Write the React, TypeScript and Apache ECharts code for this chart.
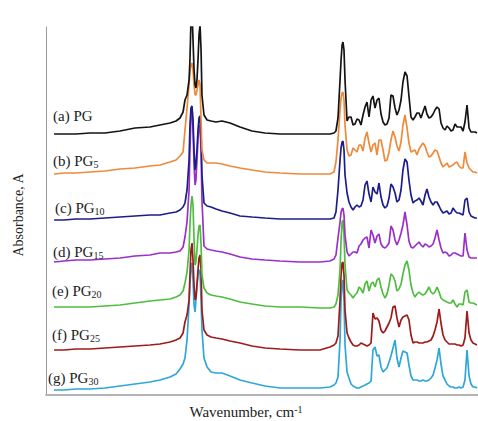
import React, { useEffect, useRef } from "react";
import * as echarts from "echarts";

// Wavenumber (cm-1) sampling grid shared by all spectra (axis runs high -> low)
const wavenumbers = [
  3997, 3919, 3825, 3715, 3598, 3480, 3363, 3245, 3167, 3088,
  3041, 3010, 2986, 2971, 2955, 2939, 2932, 2924, 2916, 2908,
  2900, 2892, 2885, 2877, 2869, 2861, 2853, 2845, 2838, 2822,
  2798, 2767, 2728, 2681, 2618, 2540, 2446, 2344, 2226, 2070,
  1913, 1835, 1803, 1788, 1772, 1756, 1748, 1740, 1733, 1725,
  1717,
  1701, 1686, 1670, 1654, 1639, 1623, 1607, 1592, 1576, 1560,
  1545, 1529, 1513, 1498, 1482, 1466, 1451, 1435, 1419, 1404,
  1388, 1372, 1357, 1341, 1325, 1310, 1294, 1278, 1263, 1247,
  1231, 1216, 1200, 1184, 1169, 1153, 1137, 1122, 1106, 1090,
  1075, 1059, 1043, 1027, 1012, 996, 980, 965, 949, 933,
  918, 902, 886, 871, 855, 839, 824, 808, 792, 777,
  761, 745, 730, 714, 698, 683,
];

// Stacked absorbance (arbitrary units, offset included) for each sample
const absorbancePG = [
  262, 262, 262, 263, 263, 265, 268, 269, 271, 273,
  275, 278, 284, 296, 301, 316, 336, 376, 385, 356,
  326, 311, 308, 316, 336, 361, 371, 346, 301, 281,
  276, 275, 274, 275, 273, 269, 265, 263, 262, 262,
  262, 262, 263, 265, 278, 316, 336, 351, 354, 346,
  316,
  275, 279, 279, 271, 272, 277, 276, 271, 281, 289,
  294, 279, 296, 300, 288, 296, 298, 282, 274, 271,
  272, 278, 301, 300, 288, 281, 286, 296, 314, 324,
  320, 300, 279, 276, 279, 283, 283, 278, 284, 290,
  282, 278, 279, 282, 286, 289, 287, 273, 268, 266,
  270, 268, 265, 266, 272, 269, 269, 269, 265, 274,
  291, 268, 264, 264, 264, 263,
];
const absorbancePG5 = [
  222, 223, 223, 224, 225, 227, 228, 230, 231, 234,
  236, 240, 244, 266, 288, 311, 324, 331, 333, 326,
  311, 301, 301, 306, 311, 316, 311, 276, 246, 236,
  233, 233, 233, 232, 230, 228, 226, 224, 223, 222,
  222, 222, 224, 234, 256, 286, 298, 303, 304, 296,
  271,
  246, 240, 241, 248, 246, 244, 251, 251, 245, 258,
  264, 253, 244, 251, 253, 241, 256, 256, 246, 235,
  236, 244, 256, 265, 259, 250, 245, 254, 271, 281,
  268, 253, 244, 245, 246, 241, 247, 250, 253, 250,
  244, 239, 240, 243, 246, 245, 239, 233, 229, 231,
  233, 229, 230, 231, 233, 234, 230, 228, 228, 244,
  233, 228, 226, 224, 224, 223,
];
const absorbancePG10 = [
  176, 176, 177, 177, 178, 179, 180, 181, 181, 183,
  184, 186, 189, 193, 206, 236, 271, 288, 290, 276,
  246, 226, 231, 246, 266, 278, 280, 261, 221, 193,
  190, 189, 187, 185, 183, 180, 179, 178, 177, 177,
  177, 177, 178, 184, 206, 236, 248, 254, 255, 246,
  221,
  203, 194, 189, 186, 189, 191, 189, 190, 196, 211,
  215, 202, 194, 209, 204, 202, 213, 199, 191, 188,
  190, 198, 212, 209, 203, 194, 196, 206, 226, 237,
  234, 216, 201, 193, 195, 196, 198, 195, 191, 201,
  207, 199, 194, 191, 194, 194, 190, 186, 183, 184,
  185, 182, 183, 188, 185, 183, 183, 182, 181, 196,
  198, 184, 180, 179, 178, 178,
];
const absorbancePG15 = [
  134, 135, 136, 136, 137, 138, 140, 141, 143, 143,
  144, 145, 149, 159, 174, 206, 246, 281, 288, 266,
  231, 211, 216, 236, 256, 269, 271, 246, 196, 150,
  147, 146, 145, 144, 142, 139, 137, 136, 135, 134,
  134, 135, 137, 141, 158, 174, 184, 187, 188, 181,
  161,
  144, 140, 142, 144, 144, 143, 150, 152, 156, 158,
  159, 148, 166, 161, 153, 160, 162, 152, 149, 148,
  150, 153, 170, 166, 156, 151, 156, 163, 171, 184,
  171, 155, 149, 148, 150, 152, 154, 151, 149, 152,
  151, 149, 150, 152, 158, 166, 156, 148, 143, 144,
  143, 140, 141, 143, 143, 142, 141, 140, 140, 163,
  146, 139, 138, 138, 138, 138,
];
const absorbancePG20 = [
  89, 89, 89, 89, 90, 91, 93, 95, 96, 97,
  99, 101, 105, 113, 124, 146, 171, 191, 200, 191,
  156, 131, 134, 146, 161, 170, 171, 151, 121, 108,
  103, 101, 100, 99, 97, 94, 92, 90, 89, 89,
  88, 88, 89, 92, 101, 126, 156, 174, 176, 161,
  131,
  106, 103, 101, 98, 101, 103, 109, 107, 103, 112,
  115, 105, 112, 114, 109, 116, 118, 109, 102, 98,
  102, 111, 122, 120, 115, 105, 107, 112, 122, 131,
  135, 126, 111, 103, 99, 102, 104, 102, 101, 102,
  105, 109, 104, 102, 104, 109, 104, 98, 96, 95,
  94, 93, 93, 96, 92, 89, 92, 92, 91, 104,
  106, 94, 93, 93, 92, 91,
];
const absorbancePG25 = [
  46, 46, 47, 47, 48, 49, 50, 51, 52, 54,
  56, 58, 63, 74, 81, 96, 121, 146, 153, 136,
  111, 96, 98, 111, 126, 138, 141, 126, 86, 66,
  61, 59, 58, 57, 55, 53, 50, 48, 47, 46,
  46, 49, 51, 53, 60, 96, 121, 133, 134, 121,
  86,
  63, 58, 54, 51, 50, 50, 51, 53, 52, 51,
  50, 51, 53, 83, 77, 78, 75, 66, 63, 65,
  69, 73, 78, 89, 90, 78, 69, 76, 79, 80,
  81, 76, 61, 53, 54, 54, 53, 53, 53, 54,
  54, 55, 56, 60, 66, 74, 87, 73, 61, 56,
  54, 52, 52, 52, 52, 51, 51, 50, 51, 58,
  85, 63, 56, 53, 52, 51,
];
const absorbancePG30 = [
  6, 6, 7, 7, 8, 10, 12, 14, 16, 19,
  22, 27, 32, 38, 56, 91, 111, 128, 133, 116,
  91, 84, 96, 111, 121, 126, 124, 96, 66, 38,
  29, 24, 23, 23, 20, 16, 13, 10, 8, 8,
  8, 9, 11, 13, 19, 56, 96, 113, 116, 96,
  51,
  24, 18, 12, 10, 9, 8, 8, 9, 10, 11,
  12, 13, 15, 46, 49, 40, 41, 29, 24, 26,
  28, 34, 40, 48, 56, 38, 29, 38, 45, 44,
  43, 31, 20, 16, 16, 16, 15, 15, 16, 15,
  15, 16, 18, 21, 28, 36, 48, 32, 20, 16,
  12, 10, 9, 9, 8, 8, 9, 8, 9, 16,
  46, 20, 12, 9, 9, 8,
];

const sampleLabels = ["(a) PG", "(b) PG", "(c) PG", "(d) PG", "(e) PG", "(f) PG", "(g) PG"];
const sampleSubscripts = ["", "5", "10", "15", "20", "25", "30"];
const xAxisTitle = "Wavenumber, cm";
const xAxisTitleSup = "-1";
const yAxisTitle = "Absorbance, A";

// styles / layout
const COLORS = ["#141414", "#ee8a3a", "#1d1d8c", "#9a30c6", "#4fbd40", "#9e1b1b", "#2ea7d8"];
const LABEL_POS: [number, number][] = [
  [53, 116], [53, 161], [55, 208], [53, 252], [52, 291], [52, 335], [48, 378],
];
const FONT = '"Liberation Serif", "Times New Roman", serif';

export default function App() {
  const ref = useRef<HTMLDivElement>(null);
  useEffect(() => {
    if (!ref.current) return;
    const chart = echarts.init(ref.current, null, { renderer: "svg" });
    const traces = [
      absorbancePG, absorbancePG5, absorbancePG10, absorbancePG15,
      absorbancePG20, absorbancePG25, absorbancePG30,
    ];
    const series = traces.map((vals, i) => ({
      type: "line" as const,
      name: sampleLabels[i] + sampleSubscripts[i],
      data: wavenumbers.map((w, j) => [w, vals[j]]),
      symbol: "none",
      showSymbol: false,
      silent: true,
      z: 10 - i,
      lineStyle: { color: COLORS[i], width: 1.7 },
    }));

    const labelGraphics = sampleLabels.map((lab, i) => {
      const sub = sampleSubscripts[i];
      return {
        type: "text",
        x: LABEL_POS[i][0],
        y: LABEL_POS[i][1],
        style: {
          text: sub ? `{n|${lab}}{s|${sub}}` : `{n|${lab}}`,
          rich: {
            n: { fontSize: 15, fontFamily: FONT, fill: "#222", lineHeight: 16 },
            s: { fontSize: 10, fontFamily: FONT, fill: "#222", lineHeight: 10, verticalAlign: "bottom" },
          },
          align: "left",
          verticalAlign: "middle",
        },
        z: 100,
      };
    });

    chart.setOption({
      animation: false,
      backgroundColor: "#ffffff",
      grid: { left: 46, right: 0, top: 27, bottom: 26 },
      xAxis: {
        type: "value",
        min: 675,
        max: 4060,
        inverse: true,
        axisLine: { show: true, lineStyle: { color: "#b4b4b4", width: 2 } },
        axisTick: { show: false },
        axisLabel: { show: false },
        splitLine: { show: false },
      },
      yAxis: {
        type: "value",
        min: 1,
        max: 369,
        axisLine: { show: true, lineStyle: { color: "#9a9a9a", width: 1 } },
        axisTick: { show: false },
        axisLabel: { show: false },
        splitLine: { show: false },
      },
      series,
      graphic: [
        ...labelGraphics,
        {
          type: "text",
          x: 18,
          y: 215,
          rotation: Math.PI / 2,
          style: {
            text: yAxisTitle,
            fontSize: 14,
            fontFamily: FONT,
            fill: "#222",
            align: "center",
            verticalAlign: "middle",
          },
        },
        {
          type: "text",
          x: 246,
          y: 412,
          style: {
            text: `{n|${xAxisTitle}}{sup|${xAxisTitleSup}}`,
            rich: {
              n: { fontSize: 15, fontFamily: FONT, fill: "#222", lineHeight: 16 },
              sup: { fontSize: 10, fontFamily: FONT, fill: "#222", lineHeight: 8, verticalAlign: "top" },
            },
            align: "center",
            verticalAlign: "middle",
          },
        },
      ],
    });
    return () => chart.dispose();
  }, []);
  return (
    <div
      ref={ref}
      style={{ position: "fixed", left: 0, top: 0, width: 478, height: 421, background: "#fff" }}
    />
  );
}
